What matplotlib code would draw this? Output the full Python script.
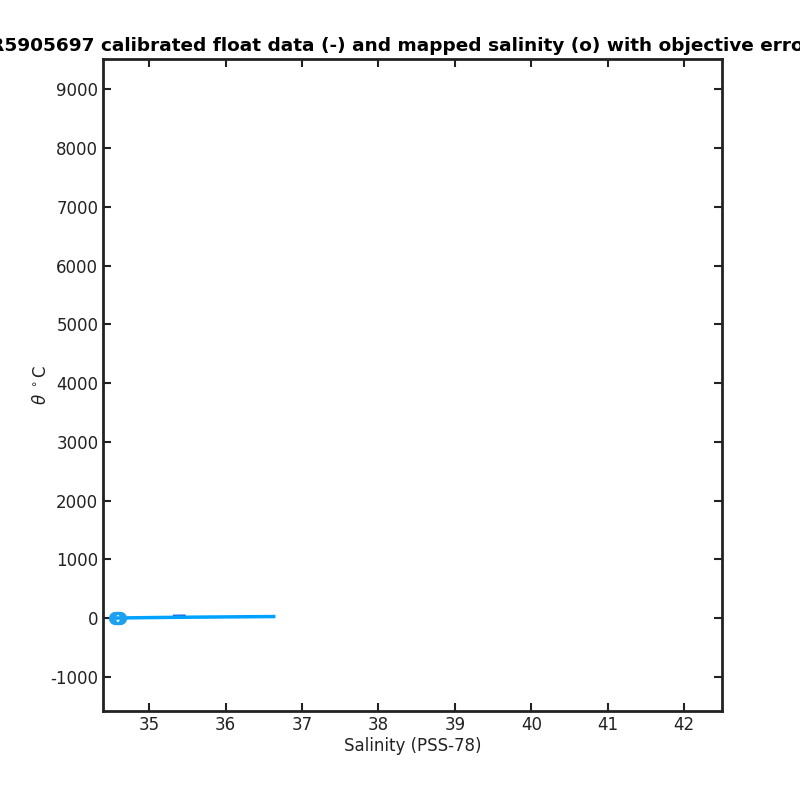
import matplotlib
matplotlib.use("Agg")
import matplotlib.pyplot as plt

plt.rcParams["axes.unicode_minus"] = False

# float profile (calibrated), salinity vs potential temperature
float_sal = [34.56, 34.58, 34.62, 34.70, 34.85, 35.05, 35.30, 35.60, 35.95, 36.25, 36.50, 36.63]
float_theta = [2.2, 3.0, 4.0, 5.5, 8.0, 11.0, 14.5, 18.0, 21.5, 24.5, 27.0, 28.5]

# second (darker) profile piece
dark_sal = [35.33, 35.40, 35.46]
dark_theta = [38.0, 39.0, 40.0]

# mapped salinity (circles)
map_sal = [34.56, 34.57, 34.58, 34.59, 34.60, 34.61, 34.62]
map_theta = [2.0, 2.5, 3.0, 3.5, 4.0, 4.5, 5.0]

title = "R5905697 calibrated float data (-) and mapped salinity (o) with objective errors"

fig = plt.figure(figsize=(8, 8), dpi=100)
ax = fig.add_axes([0.129, 0.111, 0.774, 0.815])

ax.plot(float_sal, float_theta, color="#00a2ff", lw=2.5, zorder=3)
ax.plot(dark_sal, dark_theta, color="#1f5fe0", lw=2.0, zorder=2)
ax.plot(map_sal, map_theta, "o", mfc="none", mec="#1ea0f0", ms=8, mew=1.5, zorder=4)

ax.set_xlim(34.40, 42.50)
ax.set_ylim(-1582, 9510)
ax.set_xticks(range(35, 43))
ax.set_yticks(range(-1000, 9001, 1000))

ax.tick_params(direction="in", top=True, right=True, length=6, width=1.5,
               labelsize=12, colors="#222222")
for s in ax.spines.values():
    s.set_linewidth(2)
    s.set_color("#222222")

ax.set_xlabel("Salinity (PSS-78)", fontsize=12, color="#222222", labelpad=2)
ax.set_ylabel(r"$\theta$ $^\circ$C", fontsize=12, color="#222222", labelpad=0)
t = ax.set_title(title, fontsize=13.3, fontweight="bold", pad=6)
t.set_x(0.49)

fig.savefig("out.png", dpi=100)
